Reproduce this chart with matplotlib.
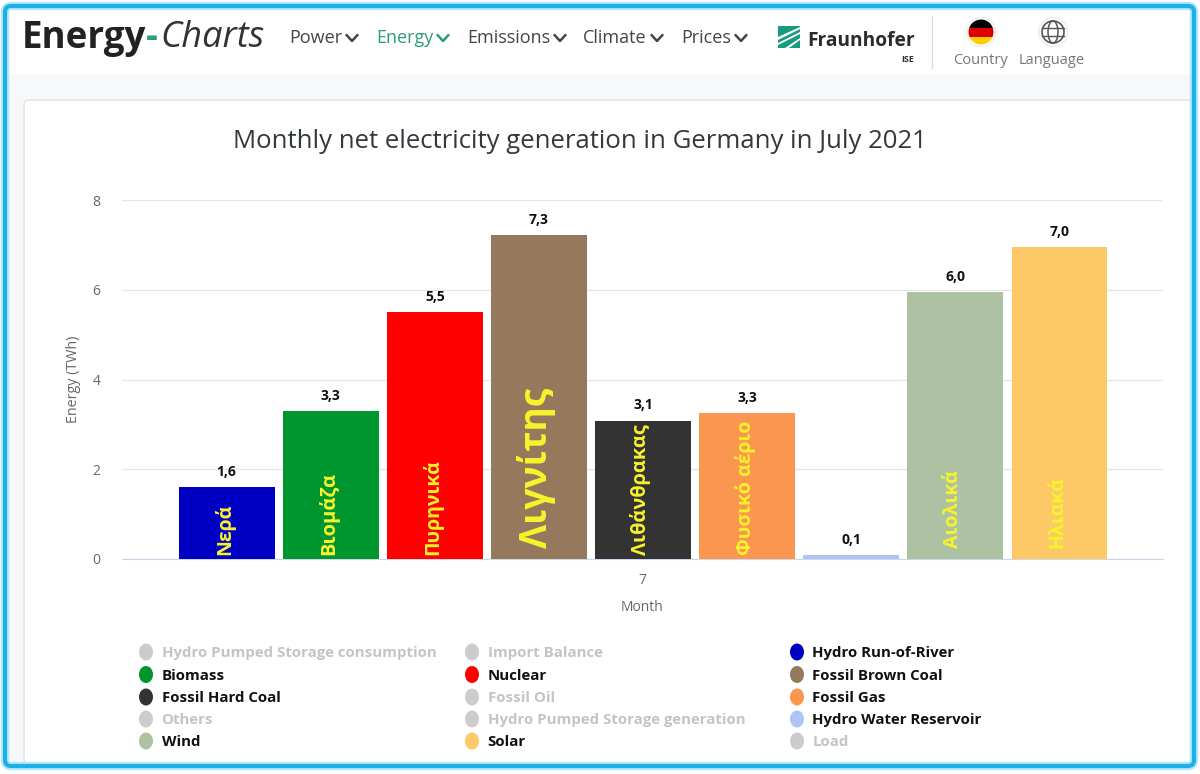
import matplotlib
matplotlib.use('Agg')
import matplotlib.pyplot as plt
from matplotlib.patches import Circle, Ellipse, FancyBboxPatch, Polygon, Rectangle

plt.rcParams['font.family'] = ['Open Sans', 'DejaVu Sans']

# Values
sources = ['Hydro Run-of-River', 'Biomass', 'Nuclear', 'Fossil Brown Coal', 'Fossil Hard Coal',
           'Fossil Gas', 'Hydro Water Reservoir', 'Wind', 'Solar']
energy = [1.60, 3.30, 5.50, 7.22, 3.08, 3.25, 0.09, 5.95, 6.95]
value_labels = ['1,6', '3,3', '5,5', '7,3', '3,1', '3,3', '0,1', '6,0', '7,0']
greek_labels = ['Νερά', 'Βιομάζα', 'Πυρηνικά', 'Λιγνίτης', 'Λιθάνθρακας', 'Φυσικό αέριο', '', 'Αιολικά', 'Ηλιακά']
bar_colors = ['#0000c4', '#00962f', '#ff0000', '#94795d', '#333333', '#fb9650', '#adc4f5', '#adc2a2', '#fdc966']
greek_sizes = [14, 14.5, 14, 26.7, 14.4, 14, 14, 14, 14]
greek_offsets = [3, 3, 3, 8, 3, 3, 3, 8, 8]
y_ticks = [0, 2, 4, 6, 8]

# Legend, row by row
legend_names = ['Hydro Pumped Storage consumption', 'Import Balance', 'Hydro Run-of-River',
                'Biomass', 'Nuclear', 'Fossil Brown Coal',
                'Fossil Hard Coal', 'Fossil Oil', 'Fossil Gas',
                'Others', 'Hydro Pumped Storage generation', 'Hydro Water Reservoir',
                'Wind', 'Solar', 'Load']
legend_colors = ['#cccccc', '#cccccc', '#0000c4',
                 '#00962f', '#ff0000', '#94795d',
                 '#333333', '#cccccc', '#fb9650',
                 '#cccccc', '#cccccc', '#adc4f5',
                 '#adc2a2', '#fdc966', '#cccccc']
legend_active = [False, False, True,
                 True, True, True,
                 True, False, True,
                 False, False, True,
                 True, True, False]
legend_cols = [146, 472, 797]
legend_rows = [652, 674.5, 697, 719, 741]

nav_items = ['Power', 'Energy', 'Emissions', 'Climate', 'Prices']
nav_x = [289, 376, 467, 583, 681]
nav_chevron_x = [352, 443, 560, 657, 741]

fig = plt.figure(figsize=(12, 7.74), dpi=100, facecolor='white')

# Page furniture drawn in pixel coordinates of the reference
bg = fig.add_axes([0, 0, 1, 1], zorder=0)
bg.set_xlim(0, 1200)
bg.set_ylim(774, 0)
bg.axis('off')

bg.add_patch(Rectangle((8, 75), 1184, 690, color='#f7f8fa', lw=0))
bg.add_patch(FancyBboxPatch((24, 100), 1168, 665, boxstyle='round,pad=0,rounding_size=5',
                            fc='white', ec='#e4e4e6', lw=1.2))

# Header
bg.text(22, 38, 'Energy', fontsize=26.5, fontweight='bold', color='#222222', va='center')
bg.text(145.5, 38, '-', fontsize=26.5, fontweight='bold', color='#2e9b78', va='center')
bg.text(160, 38, 'Charts', fontsize=26, fontstyle='italic', color='#333333', va='center')
for name, x, cx in zip(nav_items, nav_x, nav_chevron_x):
    col = '#2e9b78' if name == 'Energy' else '#444444'
    bg.text(x, 38, name, fontsize=13, color=col, va='center')
    bg.plot([cx - 5.5, cx, cx + 5.5], [35, 41, 35], color=col, lw=1.8, solid_capstyle='round')

# Fraunhofer logo
bg.add_patch(Rectangle((778, 26), 22, 22, color='#179c7d', lw=0))
bg.add_patch(Polygon([(778, 37), (800, 27), (800, 29), (778, 40)], color='white', lw=0))
bg.add_patch(Polygon([(778, 43), (800, 32), (800, 34), (778, 45)], color='white', lw=0))
bg.add_patch(Polygon([(785, 48), (800, 38), (800, 40), (789, 48)], color='white', lw=0))
bg.text(807, 41, 'Fraunhofer', fontsize=13.8, fontweight='bold', color='#2b2b2b', va='center')
bg.text(914, 59, 'ISE', fontsize=6.5, fontweight='bold', color='#333333', va='center', ha='right')
bg.plot([932, 932], [16, 68], color='#dddddd', lw=1)

# Flag and globe buttons
bg.add_patch(Circle((981, 32), 14.5, fc='white', ec='#eeeeee', lw=1))
bg.add_patch(Rectangle((968, 19), 26, 9, color='black', lw=0))
bg.add_patch(Rectangle((968, 28), 26, 8.5, color='#dd0000', lw=0))
bg.add_patch(Rectangle((968, 36.5), 26, 9, color='#ffce00', lw=0))
clip = Circle((981, 32), 12.5, transform=bg.transData)
for p in bg.patches[-3:]:
    p.set_clip_path(clip)
bg.add_patch(Circle((1053, 32), 14.5, fc='white', ec='#eeeeee', lw=1))
bg.add_patch(Circle((1053, 32), 11, fc='none', ec='#555555', lw=1.2))
bg.add_patch(Ellipse((1053, 32), 10, 22, fc='none', ec='#555555', lw=1.1))
bg.plot([1042, 1064], [28, 28], color='#555555', lw=1)
bg.plot([1042, 1064], [36, 36], color='#555555', lw=1)
bg.text(980, 61, 'Country', fontsize=10.5, color='#777777', ha='center', va='center')
bg.text(1052, 61, 'Language', fontsize=10.5, color='#777777', ha='center', va='center')

# Title
bg.text(579.5, 141, 'Monthly net electricity generation in Germany in July 2021', fontsize=18.5,
        color='#33383d', ha='center', va='center')

# Bars
ax = fig.add_axes([122 / 1200, 1 - 559 / 774, (1163 - 122) / 1200, (559 - 200) / 774], zorder=2)
ax.patch.set_alpha(0)
positions = list(range(len(sources)))
ax.bar(positions, energy, width=0.92, color=bar_colors, zorder=3)
ax.set_xlim(-1.005, 8.995)
ax.set_ylim(0, 8)
ax.set_yticks(y_ticks)
ax.set_xticks([3.99])
ax.set_xticklabels(['7'])
ax.tick_params(axis='both', length=0, labelsize=10, labelcolor='#666666')
ax.tick_params(axis='x', pad=10)
ax.tick_params(axis='y', pad=15.5)
ax.grid(axis='y', color='#e6e6e6', lw=1, zorder=0)
for side in ['top', 'right', 'left']:
    ax.spines[side].set_visible(False)
ax.spines['bottom'].set_color('#ccd6eb')
ax.set_xlabel('Month', fontsize=10, color='#666666', labelpad=8.5)
ax.set_ylabel('Energy (TWh)', fontsize=10.3, color='#666666', labelpad=8)

for pos, val, lab, greek, size, off in zip(positions, energy, value_labels, greek_labels,
                                           greek_sizes, greek_offsets):
    ax.annotate(lab, (pos, val), xytext=(0, 6), textcoords='offset points', ha='center', va='bottom',
                fontsize=10, fontweight='bold', color='#111111', zorder=5)
    if greek:
        ax.annotate(greek, (pos, 0), xytext=(-1.5, off), textcoords='offset points', ha='center', va='bottom',
                    rotation=90, fontsize=size, fontweight='bold', color='#f8f32b', zorder=5)

# Legend
fg = fig.add_axes([0, 0, 1, 1], zorder=3)
fg.set_xlim(0, 1200)
fg.set_ylim(774, 0)
fg.axis('off')
for i, name in enumerate(legend_names):
    x = legend_cols[i % 3]
    y = legend_rows[i // 3]
    fg.add_patch(Ellipse((x, y), 14, 17, color=legend_colors[i], lw=0))
    fg.text(x + 15.5, y + 1, name, fontsize=10.8, fontweight='bold', va='center',
            color='#111111' if legend_active[i] else '#c4c4c4')

# Blue frame
fg.add_patch(FancyBboxPatch((5, 6), 1189, 760, boxstyle='round,pad=0,rounding_size=6',
                            fc='none', ec='#b5e6f8', lw=6))
fg.add_patch(FancyBboxPatch((5, 6), 1189, 760, boxstyle='round,pad=0,rounding_size=6',
                            fc='none', ec='#1cb0e8', lw=3))

fig.savefig('out.png', dpi=100, facecolor='white')
